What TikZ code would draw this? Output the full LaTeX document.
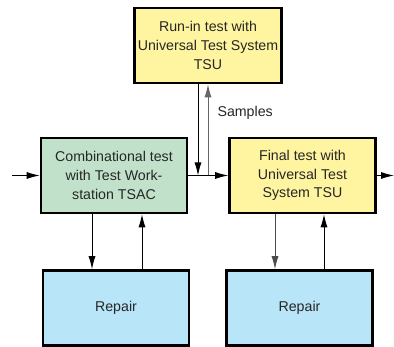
\documentclass[tikz,border=0pt]{standalone}
\usepackage{fontspec}
\setmainfont{Liberation Sans}
\usetikzlibrary{arrows.meta}

\definecolor{runyellow}{RGB}{255,245,160}
\definecolor{combgreen}{RGB}{193,225,203}
\definecolor{repblue}{RGB}{185,229,248}

\begin{document}
\begin{tikzpicture}[x=1pt, y=1pt, >={Latex[length=13pt,width=7pt]},
	blk/.style={draw, line width=2.6pt, minimum width=146pt, minimum height=75pt, align=center, text=black!85, font=\fontsize{14.2}{18.8}\selectfont},
	flow/.style={->, line width=0.9pt}]
	\useasboundingbox (0,0) rectangle (394,347);
	\node[blk, fill=runyellow] (run) at (208,301.5) {Run-in test with\\Universal Test System\\TSU};
	\node[blk, fill=combgreen] (comb) at (114,171.5) {Combinational test\\with Test Work-\\station TSAC};
	\node[blk, fill=runyellow] (final) at (302.5,171.5) {Final test with\\Universal Test\\System TSU};
	\node[blk, fill=repblue] (rep1) at (116,39) {Repair};
	\node[blk, fill=repblue] (rep2) at (299.5,39) {Repair};
	\coordinate (in) at (12,171.5);
	\coordinate (out) at (394,171.5);
	\coordinate (sdown) at (198,171.5);
	\coordinate (sup) at (208,171.5);
	\draw[flow] (in) -- (comb);
	\draw[flow] (comb) -- (final);
	\draw[flow] (final) -- (out);
	% samples to the run-in test and back
	\draw[flow] (run.south -| sdown) -- (sdown);
	\draw[flow, black!60] (sup) -- (run.south -| sup);
	\node[anchor=west, font=\fontsize{14.2}{16}\selectfont, text=black!85] (samples) at (214,234) {Samples};
	% repair loops
	\draw[flow] (comb.south -| 92,0) -- (rep1.north -| 92,0);
	\draw[flow] (rep1.north -| 142,0) -- (comb.south -| 142,0);
	\draw[flow, black!70] (final.south -| 275,0) -- (rep2.north -| 275,0);
	\draw[flow] (rep2.north -| 324,0) -- (final.south -| 324,0);
\end{tikzpicture}
\end{document}
